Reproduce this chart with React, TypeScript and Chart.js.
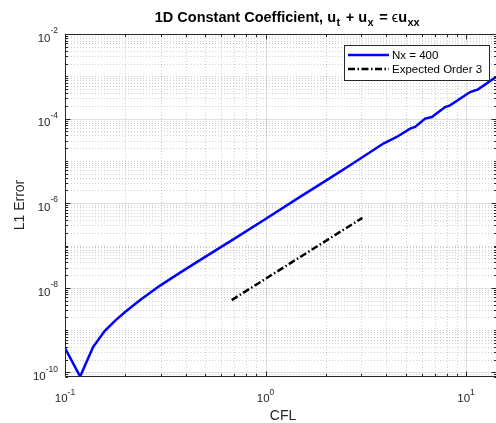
import { useEffect, useRef } from "react";
import { Chart, registerables } from "chart.js";

Chart.register(...registerables);

// ---- data ----
const cfl = [0.1, 0.119, 0.138, 0.158, 0.178, 0.2, 0.237, 0.298, 0.375, 0.471, 0.7, 1.0, 1.486, 2.0, 2.64, 3.87, 4.51, 5.26, 5.57, 6.25, 6.75, 7.86, 8.32, 10.47, 11.48, 14.1];
const l1Error = [3.77e-10, 8e-11, 3.98e-10, 9.66e-10, 1.68e-9, 2.71e-9, 5.13e-9, 1.13e-8, 2.29e-8, 4.51e-8, 1.46e-7, 4.25e-7, 1.41e-6, 3.43e-6, 7.88e-6, 2.57e-5, 3.68e-5, 5.81e-5, 6.34e-5, 1.0e-4, 1.09e-4, 1.88e-4, 2.06e-4, 4.25e-4, 4.92e-4, 9.6e-4];
const refCfl = [0.678, 3.04];
const refError = [5.13e-9, 4.5e-7];

const xMin = 0.1;
const xMax = 14.1;
const yMin = 7.8e-11;
const yMax = 1e-2;

const xLabelExps = [-1, 0, 1];
const yLabelExps = [-2, -4, -6, -8, -10];

const seriesNames = ["Nx = 400", "Expected Order 3"];
const titleParts: { t: string; sub?: boolean; normal?: boolean }[] = [
  { t: "1D Constant Coefficient, u" },
  { t: "t", sub: true },
  { t: " + u" },
  { t: "x", sub: true },
  { t: " = " },
  { t: "\u03F5", normal: true },
  { t: "u" },
  { t: "xx", sub: true },
];
const xTitle = "CFL";
const yTitle = "L1 Error";

const FONT = '"Liberation Sans", Arial, Helvetica, sans-serif';
const AXIS = "#262626";
const DASHDOT = [7, 2.5, 1.5, 2.5];

function minorValues(min: number, max: number): number[] {
  const out: number[] = [];
  const d0 = Math.floor(Math.log10(min));
  const d1 = Math.ceil(Math.log10(max));
  for (let d = d0; d <= d1; d++) {
    for (let m = 1; m <= 9; m++) {
      const v = m * Math.pow(10, d);
      if (v >= min * 0.999 && v <= max * 1.001) out.push(v);
    }
  }
  return out;
}

function isMajor(v: number, exps: number[]) {
  return exps.some((e) => Math.abs(Math.log10(v) - e) < 1e-6);
}

function drawPow(
  ctx: CanvasRenderingContext2D,
  exp: number,
  x: number,
  baseY: number,
  align: "center" | "right",
  baseSize: number,
  expSize: number,
  rise: number
) {
  const es = exp < 0 ? "-" + Math.abs(exp) : String(exp);
  ctx.font = `${baseSize}px ${FONT}`;
  const wb = ctx.measureText("10").width;
  ctx.font = `${expSize}px ${FONT}`;
  const we = ctx.measureText(es).width;
  const total = wb + we;
  const x0 = align === "center" ? x - total / 2 : x - total;
  ctx.textAlign = "left";
  ctx.textBaseline = "alphabetic";
  ctx.font = `${baseSize}px ${FONT}`;
  ctx.fillText("10", x0, baseY);
  ctx.font = `${expSize}px ${FONT}`;
  ctx.fillText(es, x0 + wb, baseY - rise);
}

const decorPlugin = {
  id: "matlabDecor",
  beforeDatasetsDraw(chart: any) {
    const { ctx, chartArea: a, scales } = chart;
    const xs = scales.x;
    const ys = scales.y;
    ctx.save();
    ctx.beginPath();
    ctx.rect(a.left, a.top, a.right - a.left, a.bottom - a.top);
    ctx.clip();
    ctx.lineWidth = 1;
    // minor grid
    ctx.strokeStyle = "rgba(38,38,38,0.22)";
    ctx.setLineDash([1, 2]);
    for (const v of minorValues(xMin, xMax)) {
      if (isMajor(v, xLabelExps)) continue;
      const px = Math.round(xs.getPixelForValue(v)) + 0.5;
      ctx.beginPath();
      ctx.moveTo(px, a.top);
      ctx.lineTo(px, a.bottom);
      ctx.stroke();
    }
    for (const v of minorValues(yMin, yMax)) {
      if (isMajor(v, yLabelExps)) continue;
      const py = Math.round(ys.getPixelForValue(v)) + 0.5;
      ctx.beginPath();
      ctx.moveTo(a.left, py);
      ctx.lineTo(a.right, py);
      ctx.stroke();
    }
    // major grid
    ctx.setLineDash([]);
    ctx.strokeStyle = "rgba(38,38,38,0.15)";
    for (const e of xLabelExps) {
      const px = Math.round(xs.getPixelForValue(Math.pow(10, e))) + 0.5;
      ctx.beginPath();
      ctx.moveTo(px, a.top);
      ctx.lineTo(px, a.bottom);
      ctx.stroke();
    }
    for (const e of yLabelExps) {
      const py = Math.round(ys.getPixelForValue(Math.pow(10, e))) + 0.5;
      ctx.beginPath();
      ctx.moveTo(a.left, py);
      ctx.lineTo(a.right, py);
      ctx.stroke();
    }
    ctx.restore();
  },
  afterDatasetsDraw(chart: any) {
    const { ctx, chartArea: a, scales } = chart;
    const xs = scales.x;
    const ys = scales.y;
    ctx.save();
    // box
    ctx.setLineDash([]);
    ctx.strokeStyle = AXIS;
    ctx.lineWidth = 1;
    const L = Math.round(a.left) + 0.5;
    const T = Math.round(a.top) + 0.5;
    const B = Math.round(a.bottom) - 0.5;
    const R = Math.round(a.right) + 0.5;
    ctx.strokeRect(L, T, R - L, B - T);
    // tick marks (inside, all sides)
    ctx.beginPath();
    for (const v of minorValues(xMin, xMax)) {
      const len = isMajor(v, xLabelExps) ? 5 : 2.5;
      const px = Math.round(xs.getPixelForValue(v)) + 0.5;
      ctx.moveTo(px, B);
      ctx.lineTo(px, B - len);
      ctx.moveTo(px, T);
      ctx.lineTo(px, T + len);
    }
    for (const v of minorValues(yMin, yMax)) {
      const len = isMajor(v, yLabelExps) ? 5 : 2.5;
      const py = Math.round(ys.getPixelForValue(v)) + 0.5;
      ctx.moveTo(L, py);
      ctx.lineTo(L + len, py);
      ctx.moveTo(R, py);
      ctx.lineTo(R - len, py);
    }
    ctx.stroke();

    // tick labels
    ctx.fillStyle = AXIS;
    for (const e of yLabelExps) {
      const py = ys.getPixelForValue(Math.pow(10, e));
      drawPow(ctx, e, a.left - 7, py + 7.7, "right", 11.5, 8.5, 8.5);
    }
    for (const e of xLabelExps) {
      const px = xs.getPixelForValue(Math.pow(10, e));
      drawPow(ctx, e, px, a.bottom + 24.5, "center", 11.5, 8.5, 6.5);
    }

    // axis titles
    ctx.font = `14px ${FONT}`;
    ctx.textAlign = "center";
    ctx.textBaseline = "alphabetic";
    ctx.fillText(xTitle, 283, 420);
    ctx.save();
    ctx.translate(24, 205);
    ctx.rotate(-Math.PI / 2);
    ctx.fillText(yTitle, 0, 0);
    ctx.restore();

    // title
    ctx.fillStyle = "#000";
    const mainF = `bold 14.5px ${FONT}`;
    const subF = `bold 11px ${FONT}`;
    const normF = `14.5px ${FONT}`;
    let total = 0;
    const widths: number[] = [];
    for (const p of titleParts) {
      ctx.font = p.sub ? subF : p.normal ? normF : mainF;
      const w = ctx.measureText(p.t).width + (p.sub ? 2 : 0);
      widths.push(w);
      total += w;
    }
    let tx = 288 - total / 2;
    ctx.textAlign = "left";
    titleParts.forEach((p, i) => {
      ctx.font = p.sub ? subF : p.normal ? normF : mainF;
      ctx.fillText(p.t, tx + (p.sub ? 0.5 : 0), p.sub ? 26 : 21.5);
      tx += widths[i];
    });

    // legend
    const lx = 344.5;
    const ly = 45.5;
    const lw = 145;
    const lh = 35;
    ctx.fillStyle = "#fff";
    ctx.fillRect(lx, ly, lw, lh);
    ctx.strokeStyle = AXIS;
    ctx.lineWidth = 1;
    ctx.strokeRect(lx, ly, lw, lh);
    const rows = [55, 69];
    const colors = ["#0000ff", "#000000"];
    const dashes = [[], DASHDOT];
    ctx.font = `11.5px ${FONT}`;
    ctx.textBaseline = "middle";
    ctx.textAlign = "left";
    rows.forEach((ry, i) => {
      ctx.strokeStyle = colors[i];
      ctx.lineWidth = 2.5;
      ctx.setLineDash(dashes[i]);
      ctx.beginPath();
      ctx.moveTo(348, ry);
      ctx.lineTo(389, ry);
      ctx.stroke();
      ctx.setLineDash([]);
      ctx.fillStyle = "#000";
      ctx.fillText(seriesNames[i], 392, ry + 0.5);
    });
    ctx.restore();
  },
};

export default function App() {
  const ref = useRef<HTMLCanvasElement | null>(null);
  useEffect(() => {
    if (!ref.current) return;
    const chart = new Chart(ref.current, {
      type: "line",
      data: {
        datasets: [
          {
            label: seriesNames[0],
            data: cfl.map((c, i) => ({ x: c, y: l1Error[i] })),
            borderColor: "#0000ff",
            borderWidth: 2.5,
            pointRadius: 0,
            tension: 0,
            fill: false,
          },
          {
            label: seriesNames[1],
            data: refCfl.map((c, i) => ({ x: c, y: refError[i] })),
            borderColor: "#000000",
            borderWidth: 2.5,
            borderDash: DASHDOT,
            pointRadius: 0,
            tension: 0,
            fill: false,
          },
        ],
      },
      options: {
        animation: false,
        responsive: false,
        devicePixelRatio: 1,
        layout: { padding: { left: 65, right: 0, top: 34, bottom: 46 } },
        plugins: {
          legend: { display: false },
          title: { display: false },
          tooltip: { enabled: false },
        },
        scales: {
          x: { type: "logarithmic", min: xMin, max: xMax, display: false },
          y: { type: "logarithmic", min: yMin, max: yMax, display: false },
        },
      },
      plugins: [decorPlugin],
    } as any);
    return () => chart.destroy();
  }, []);
  return (
    <div style={{ position: "absolute", left: 0, top: 0, width: 496, height: 423, background: "#fff" }}>
      <canvas ref={ref} width={496} height={423} style={{ display: "block", width: 496, height: 423 }} />
    </div>
  );
}
